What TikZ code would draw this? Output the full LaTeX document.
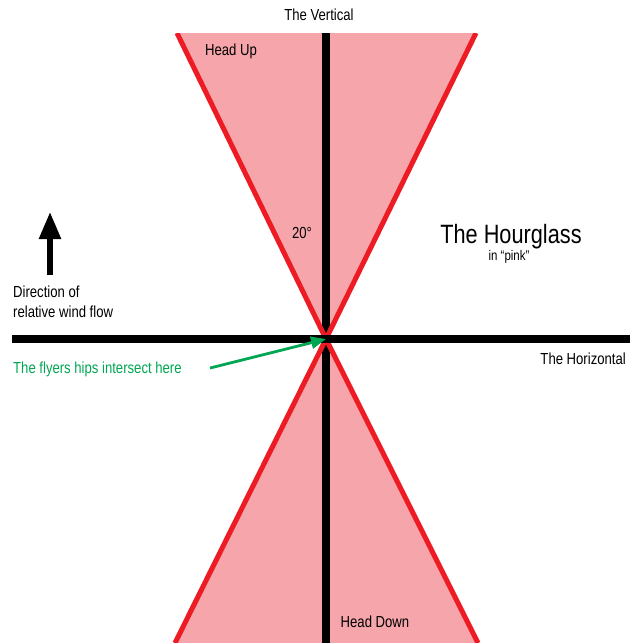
\documentclass[tikz,border=0pt]{standalone}
\usepackage{fontspec}
\setmainfont{Liberation Sans}[FakeStretch=0.82]
\usetikzlibrary{arrows.meta}
\definecolor{pinkfill}{RGB}{246,166,170}
\definecolor{redline}{RGB}{237,28,36}
\definecolor{greentext}{RGB}{0,166,81}
\begin{document}
\begin{tikzpicture}[x=1pt,y=-1pt,
  lbl/.style={inner sep=0pt, font=\fontsize{16}{18}\selectfont},
  blackline/.style={line width=7.5pt, black},
  rededge/.style={line width=5pt, redline},
]
\useasboundingbox (0,0) rectangle (630,643);
\coordinate (apex) at (326,339);
\coordinate (tl) at (177,33);
\coordinate (tr) at (476,33);
\coordinate (bl) at (175,643);
\coordinate (br) at (478,643);
\coordinate (vtop) at (326,33);
\coordinate (vbot) at (326,643);
\coordinate (hleft) at (12,339);
\coordinate (hright) at (630,339);
% hourglass fill
\fill[pinkfill] (tl) -- (tr) -- (apex) -- cycle;
\fill[pinkfill] (bl) -- (br) -- (apex) -- cycle;
% vertical
\draw[blackline] (vtop) -- (vbot);
% red edges
\begin{scope}
\clip (0,33) rectangle (630,643);
\draw[rededge] (tl) -- (apex) -- (tr);
\draw[rededge] (bl) -- (apex) -- (br);
\end{scope}
% horizontal
\draw[blackline] (hleft) -- (hright);
% labels
\node[lbl, anchor=base] (vert) at (319,20) {The Vertical};
\node[lbl, anchor=base] (hup) at (231,55) {Head Up};
\node[lbl, anchor=base] (ang) at (302,238) {20°};
\node[inner sep=0pt, anchor=base, font=\fontsize{26.5}{30}\selectfont] (hg) at (511,243) {The Hourglass};
\node[inner sep=0pt, anchor=base, font=\fontsize{14}{16}\selectfont] (pink) at (509,260) {in “pink”};
\node[lbl, anchor=base east] (horiz) at (626,364) {The Horizontal};
\node[lbl, anchor=base west] (dir1) at (13,297) {Direction of};
\node[lbl, anchor=base west] (dir2) at (13,317) {relative wind flow};
\node[lbl, anchor=base west, text=greentext] (hips) at (13,373) {The flyers hips intersect here};
\node[lbl, anchor=base] (hdown) at (375,627) {Head Down};
% wind arrow
\coordinate (windbot) at (50,275);
\coordinate (windtop) at (50,212);
\draw[line width=5.5pt, -{Triangle[length=27pt,width=21pt]}] (windbot) -- (windtop);
% green arrow
\coordinate (gstart) at (210,368);
\draw[greentext, line width=2.8pt, -{Triangle[length=15pt,width=12pt]}] (gstart) -- (apex);
\end{tikzpicture}
\end{document}
